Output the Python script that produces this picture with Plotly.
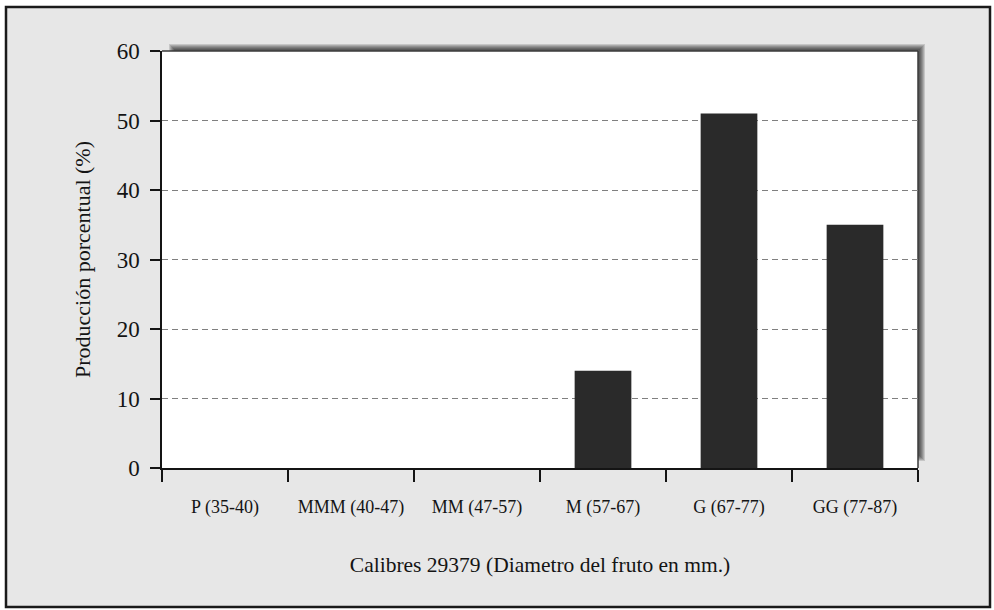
import plotly.graph_objects as go

# Size classes (calibres) and percentage of production in each
calibres = ["P (35-40)", "MMM (40-47)", "MM (47-57)", "M (57-67)", "G (67-77)", "GG (77-87)"]
produccion = [0, 0, 0, 14, 51, 35]
y_ticks = [0, 10, 20, 30, 40, 50, 60]

W, H = 994, 610
L, R, T, B = 162, 918, 51, 468  # plot area in pixels


def px(x):
    return (x - L) / (R - L)


def py(y):
    return (B - y) / (B - T)


SERIF = "Liberation Serif, Times New Roman, serif"
INK = "#141414"

fig = go.Figure(
    go.Bar(
        x=calibres,
        y=produccion,
        width=0.45,
        marker=dict(color="#2a2a2a", line=dict(width=0)),
    )
)

shapes = []
# light grey card with a dark frame
shapes.append(dict(type="rect", xref="paper", yref="paper",
                   x0=px(6), x1=px(990), y0=py(607), y1=py(7),
                   fillcolor="#e7e7e7", line=dict(color="#1a1a1a", width=2.5),
                   layer="below"))
# soft drop shadow to the upper right of the plot area
for k in range(6):
    shapes.append(dict(type="rect", xref="paper", yref="paper",
                       x0=px(169 + k), x1=px(925 - k), y0=py(461 - k), y1=py(44 + k),
                       fillcolor="rgba(0,0,0,0.14)", line=dict(width=0),
                       layer="below"))
# white plot area
shapes.append(dict(type="rect", xref="paper", yref="paper",
                   x0=0, x1=1, y0=0, y1=1,
                   fillcolor="white", line=dict(width=0), layer="below"))
# thin dark edge along top and right of the plot area
shapes.append(dict(type="line", xref="paper", yref="paper",
                   x0=px(L), x1=1, y0=1, y1=1,
                   line=dict(color="#3a3a3a", width=1.5), layer="below"))
shapes.append(dict(type="line", xref="paper", yref="paper",
                   x0=1, x1=1, y0=0, y1=1,
                   line=dict(color="#3a3a3a", width=1.5), layer="below"))

fig.update_layout(
    width=W, height=H,
    margin=dict(l=L, r=W - R, t=T, b=H - B),
    paper_bgcolor="white",
    plot_bgcolor="rgba(0,0,0,0)",
    showlegend=False,
    shapes=shapes,
    font=dict(family=SERIF, color=INK),
)

fig.update_xaxes(
    type="category",
    range=[-0.5, 5.5],
    tickson="boundaries",
    ticks="outside", ticklen=12, tickwidth=1.5, tickcolor=INK,
    showline=True, linecolor=INK, linewidth=1.5,
    showgrid=False,
    tickfont=dict(family=SERIF, size=18, color=INK),
    ticklabelstandoff=22,
    title=dict(text="Calibres 29379 (Diametro del fruto en mm.)",
               font=dict(family=SERIF, size=21.5, color=INK),
               standoff=40),
)

fig.update_yaxes(
    range=[0, 60],
    tickvals=y_ticks,
    ticks="outside", ticklen=10, tickwidth=1.5, tickcolor=INK,
    showline=True, linecolor=INK, linewidth=1.5,
    showgrid=True, gridcolor="#808080", gridwidth=1, griddash="6px,4px",
    zeroline=False,
    tickfont=dict(family=SERIF, size=23, color=INK),
    ticklabelstandoff=6,
    title=dict(text="Producción porcentual (%)",
               font=dict(family=SERIF, size=22, color=INK),
               standoff=20),
)

fig.write_html("out.html")
